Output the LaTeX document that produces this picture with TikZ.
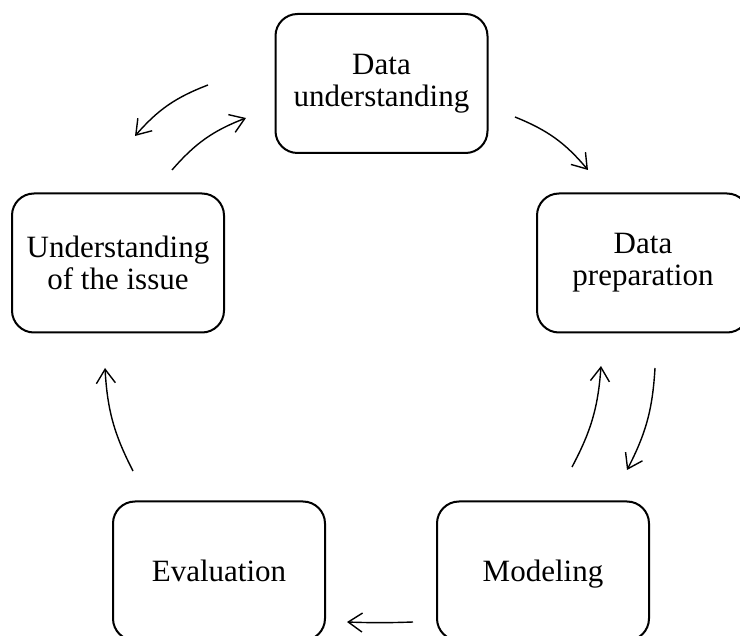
\documentclass[tikz,border=0pt]{standalone}
\usepackage{fontspec}
\setmainfont{Liberation Serif}
\usetikzlibrary{arrows.meta}

\begin{document}
\begin{tikzpicture}[x=1pt, y=-1pt,
  >={Straight Barb[length=14pt,width=19pt,line width=1.4pt]},
  box/.style={
    draw,
    line width=2pt,
    rounded corners=22pt,
    align=center,
    font=\fontsize{31}{32}\selectfont,
    minimum width=212pt,
    minimum height=139pt
  },
  arr/.style={->, line width=1.4pt}
]
\clip (0,0) rectangle (740,636);
\fill[white] (0,0) rectangle (740,636);

\node[box] (datau) at (381.5,83.5) {Data\\understanding};
\node[box] (datap) at (643,263) {Data\\preparation};
\node[box, text depth=0pt] (model) at (543,571) {Modeling};
\node[box] (evalu) at (219,571) {Evaluation};
\node[box] (issue) at (118,263) {Understanding\\of the issue};

% free ends of the cycle arrows
\coordinate (a1s) at (208,85);  \coordinate (a1e) at (135,136);
\coordinate (a2s) at (172,170); \coordinate (a2e) at (246,118);
\coordinate (a3s) at (515,117); \coordinate (a3e) at (588,170);
\coordinate (a4s) at (655,368); \coordinate (a4e) at (627,470);
\coordinate (a5s) at (572,467); \coordinate (a5e) at (601,366);
\coordinate (a6s) at (413,622); \coordinate (a6e) at (347,622);
\coordinate (a7s) at (133,471); \coordinate (a7e) at (105,368);

\draw[arr] (a1s) to[bend right=14] (a1e);
\draw[arr] (a2s) to[bend left=14] (a2e);
\draw[arr] (a3s) to[bend left=14] (a3e);
\draw[arr] (a4s) to[bend left=12] (a4e);
\draw[arr] (a5s) to[bend right=12] (a5e);
\draw[arr] (a6s) to[bend left=2] (a6e);
\draw[arr] (a7s) to[bend left=12] (a7e);
\end{tikzpicture}
\end{document}
